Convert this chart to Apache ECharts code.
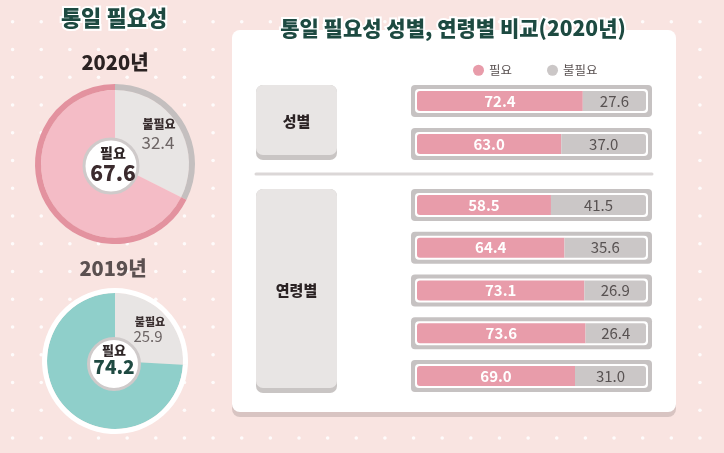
<!DOCTYPE html>
<html><head><meta charset="utf-8">
<script src="https://cdn.jsdelivr.net/npm/echarts@6/dist/echarts.min.js"></script>
<style>html,body{margin:0;padding:0;background:#f9e4e1;}#c{width:724px;height:453px;}</style>
</head><body><div id="c"></div>
<script>
const categoriesGender = ['남성', '여성'];
const needGender = [72.4, 63.0];
const notNeedGender = [27.6, 37.0];
const categoriesAge = ['19~29세', '30대', '40대', '50대', '60대'];
const needAge = [58.5, 64.4, 73.1, 73.6, 69.0];
const notNeedAge = [41.5, 35.6, 26.9, 26.4, 31.0];
const pieNames = ['불필요', '필요'];
const pie2020 = [32.4, 67.6];
const pie2019 = [25.9, 74.2];

const FONT = '"Noto Sans CJK KR", "Noto Sans", sans-serif';
const PINK = '#e89caa', GREY = '#cbc7c7';

const chart = echarts.init(document.getElementById('c'));

// decorative dots
const graphics = [];
for (let j = 0; j < 16; j++) {
  for (let k = 0; k < 26; k++) {
    graphics.push({type: 'circle', z: 0, silent: true,
      shape: {cx: 12.6 + 28.64 * k, cy: 21.7 + 27.75 * j, r: 1.8},
      style: {fill: 'rgba(255,255,255,0.85)'}});
  }
}
// panel
graphics.push({type: 'rect', z: 1, silent: true, shape: {x: 232, y: 35, width: 444, height: 382, r: 8}, style: {fill: '#d8c4c2'}});
graphics.push({type: 'rect', z: 1, silent: true, shape: {x: 232, y: 30, width: 444, height: 382, r: 8}, style: {fill: '#ffffff'}});
// group boxes
function box(y, h, label) {
  graphics.push({type: 'rect', z: 1, silent: true, shape: {x: 256, y: y, width: 81, height: h, r: 7}, style: {fill: '#c9c5c4'}});
  graphics.push({type: 'rect', z: 1, silent: true, shape: {x: 256, y: y, width: 81, height: h - 5, r: 7}, style: {fill: '#e8e5e4'}});
  graphics.push({type: 'text', z: 3, silent: true, style: {text: label, x: 296.5, y: y + h / 2 - 1, textAlign: 'center', textVerticalAlign: 'middle', fill: '#2b2324', font: '900 15px ' + FONT}});
}
box(85, 75, '성별');
box(189, 204, '연령별');
graphics.push({type: 'line', z: 1, silent: true, shape: {x1: 256, y1: 174, x2: 652, y2: 174}, style: {stroke: '#dbd7d7', lineWidth: 3, lineCap: 'round'}});
// titles
graphics.push({type: 'text', z: 5, silent: true, style: {text: '통일 필요성', x: 114, y: 18, textAlign: 'center', textVerticalAlign: 'middle', fill: '#1d4a41', stroke: '#ffffff', lineWidth: 4, font: '900 22px ' + FONT}});
graphics.push({type: 'text', z: 5, silent: true, style: {text: '통일 필요성 성별, 연령별 비교(2020년)', x: 453, y: 28, textAlign: 'center', textVerticalAlign: 'middle', fill: '#1d4a41', stroke: '#ffffff', lineWidth: 4, font: '900 21px ' + FONT}});
graphics.push({type: 'text', z: 5, silent: true, style: {text: '2020년', x: 115, y: 62, textAlign: 'center', textVerticalAlign: 'middle', fill: '#2b2222', font: '900 20px ' + FONT}});
graphics.push({type: 'text', z: 5, silent: true, style: {text: '2019년', x: 113, y: 268, textAlign: 'center', textVerticalAlign: 'middle', fill: '#5b5050', font: '900 20px ' + FONT}});
// donut centres
graphics.push({type: 'circle', z: 5, silent: true, shape: {cx: 111, cy: 166, r: 27}, style: {fill: '#fff', stroke: '#cfcaca', lineWidth: 3}});
graphics.push({type: 'circle', z: 5, silent: true, shape: {cx: 114, cy: 364, r: 25.5}, style: {fill: '#fff', stroke: '#cfcaca', lineWidth: 3}});
function txt(t, x, y, color, font) {
  graphics.push({type: 'text', z: 6, silent: true, style: {text: t, x: x, y: y, textAlign: 'center', textVerticalAlign: 'middle', fill: color, font: font + ' ' + FONT}});
}
txt(pieNames[1], 113, 153, '#2f2627', '900 14px');
txt(pie2020[1].toFixed(1), 113, 173, '#3b2b2e', '900 21px');
txt(pieNames[0], 159, 124, '#3a2f30', '900 12px');
txt(pie2020[0].toFixed(1), 158, 143, '#6d6565', '17px');
txt(pieNames[1], 114, 350, '#2f2627', '900 13px');
txt(pie2019[1].toFixed(1), 114, 367, '#1f4a42', '900 19px');
txt(pieNames[0], 150, 322, '#3a2f30', '900 11px');
txt(pie2019[0].toFixed(1), 148, 336, '#6d6565', '15px');

function renderFrame(params, api) {
  const yi = api.value(1);
  const a = api.coord([0, yi]);
  const b = api.coord([api.value(0), yi]);
  return {type: 'group', children: [
    {type: 'rect', shape: {x: a[0] - 6, y: a[1] - 16, width: b[0] - a[0] + 12, height: 32, r: 4}, style: {fill: '#c6c2c2'}},
    {type: 'rect', shape: {x: a[0] - 2, y: a[1] - 12, width: b[0] - a[0] + 4, height: 24, r: 4}, style: {fill: '#ffffff'}}
  ]};
}
function barSeries(gi, need, notNeed, stack) {
  return [
    {type: 'custom', xAxisIndex: gi, yAxisIndex: gi, z: 2, silent: true, renderItem: renderFrame,
      encode: {x: 0, y: 1}, data: need.map((v, i) => [v + notNeed[i], i])},
    {type: 'bar', name: '필요', xAxisIndex: gi, yAxisIndex: gi, stack: stack, z: 3, barWidth: 20, silent: true,
      itemStyle: {color: PINK, borderRadius: [3, 0, 0, 3]},
      label: {show: true, position: 'inside', color: '#fff', fontWeight: 'bold', fontSize: 15, fontFamily: FONT, formatter: p => p.value.toFixed(1)},
      data: need},
    {type: 'bar', name: '불필요', xAxisIndex: gi, yAxisIndex: gi, stack: stack, z: 3, barWidth: 20, silent: true,
      itemStyle: {color: GREY, borderRadius: [0, 3, 3, 0]},
      label: {show: true, position: 'inside', color: '#585252', fontSize: 15, fontFamily: FONT, formatter: p => p.value.toFixed(1)},
      data: notNeed}
  ];
}
const yAxisCommon = {type: 'category', inverse: true, axisLine: {show: false}, axisTick: {show: false}, splitLine: {show: false},
  axisLabel: {margin: 19, fontSize: 12.5, color: '#5a5252', fontFamily: FONT}};

const pieCommon = {type: 'pie', silent: true, label: {show: false}, labelLine: {show: false}, startAngle: 90, clockwise: true, z: 3, emphasis: {disabled: true}};

chart.setOption({
  animation: false,
  backgroundColor: '#f9e4e1',
  textStyle: {fontFamily: FONT},
  legend: {left: 468, top: 59, itemWidth: 11, itemHeight: 11, itemGap: 35, icon: 'circle', selectedMode: false,
    data: ['필요', '불필요'], textStyle: {fontSize: 12.5, color: '#5a5252', fontFamily: FONT}},
  grid: [
    {left: 417, right: 78, top: 79.5, height: 86},
    {left: 417, right: 78, top: 183.5, height: 214}
  ],
  xAxis: [
    {type: 'value', gridIndex: 0, min: 0, max: 100, show: false},
    {type: 'value', gridIndex: 1, min: 0, max: 100, show: false}
  ],
  yAxis: [
    Object.assign({gridIndex: 0, data: categoriesGender}, yAxisCommon),
    Object.assign({gridIndex: 1, data: categoriesAge}, yAxisCommon)
  ],
  graphic: {elements: graphics},
  series: [
    ...barSeries(0, needGender, notNeedGender, 'g'),
    ...barSeries(1, needAge, notNeedAge, 'a'),
    Object.assign({}, pieCommon, {center: [115, 164], radius: [0, 74],
      data: pieNames.map((n, i) => ({name: n, value: pie2020[i], itemStyle: {color: ['#e8e5e4', '#f4bcc6'][i]}}))}),
    Object.assign({}, pieCommon, {center: [115, 164], radius: [74, 80],
      data: pieNames.map((n, i) => ({name: n, value: pie2020[i], itemStyle: {color: ['#c4bfbf', '#e3929f'][i]}}))}),
    Object.assign({}, pieCommon, {center: [115, 361], radius: [0, 68],
      data: pieNames.map((n, i) => ({name: n, value: pie2019[i], itemStyle: {color: ['#e8e5e4', '#8fcfca'][i]}}))}),
    Object.assign({}, pieCommon, {center: [115, 361], radius: [68, 73],
      data: pieNames.map((n, i) => ({name: n, value: pie2019[i], itemStyle: {color: '#ffffff'}}))})
  ]
});
</script>
</body></html>
